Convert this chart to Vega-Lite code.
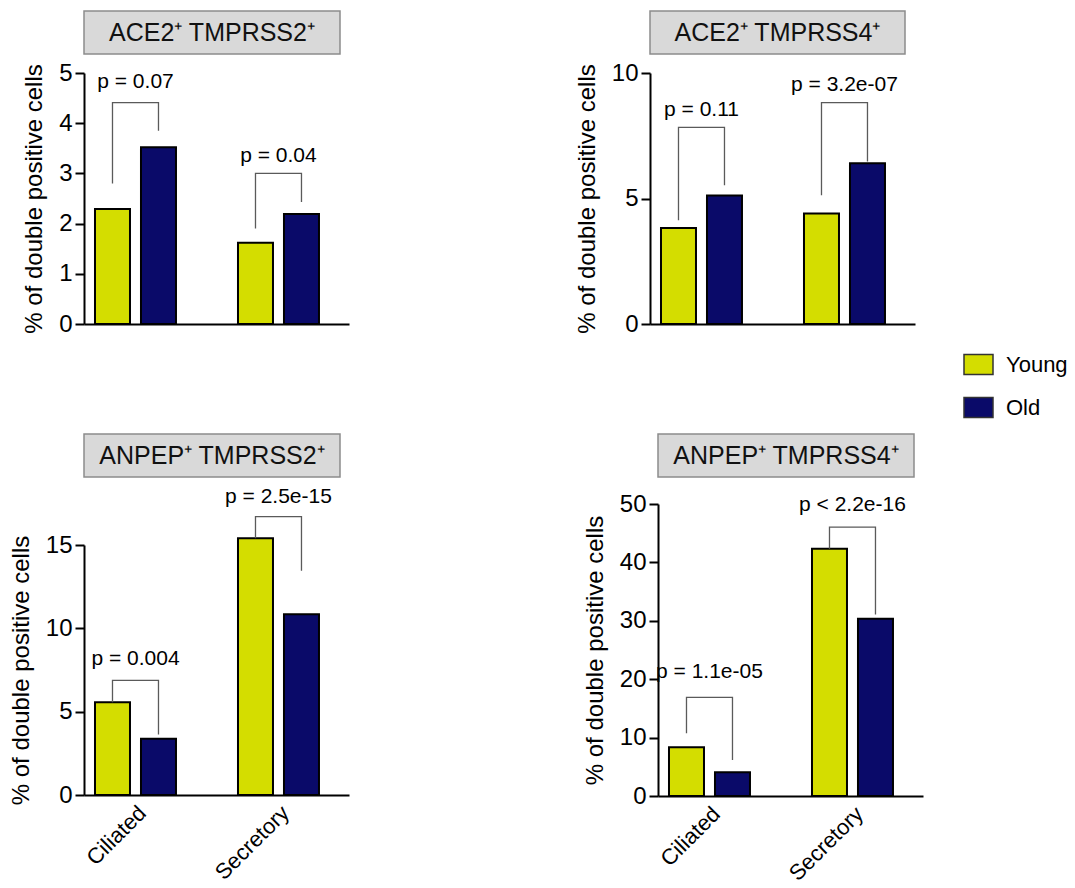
{
  "$schema": "https://vega.github.io/schema/vega-lite/v6.json",
  "padding": {"left": 9, "top": 10, "right": 0, "bottom": 0},
  "config": {
    "font": "Liberation Sans",
    "view": {"stroke": null},
    "axis": {"grid": false, "labelColor": "black", "titleColor": "black", "domainColor": "black", "tickColor": "black", "domainWidth": 2, "tickWidth": 2, "tickSize": 9, "labelFontSize": 24, "titleFontSize": 24, "titleFontWeight": "normal", "labelPadding": 3, "titlePadding": 12},
    "legend": {"labelFontSize": 22, "labelColor": "black"}
  },
  "datasets": {
    "bars": [
      {"panel": "p1", "cell": "Ciliated", "group": "Young", "pct": 2.29},
      {"panel": "p1", "cell": "Ciliated", "group": "Old", "pct": 3.52},
      {"panel": "p1", "cell": "Secretory", "group": "Young", "pct": 1.62},
      {"panel": "p1", "cell": "Secretory", "group": "Old", "pct": 2.19},
      {"panel": "p2", "cell": "Ciliated", "group": "Young", "pct": 3.82},
      {"panel": "p2", "cell": "Ciliated", "group": "Old", "pct": 5.12},
      {"panel": "p2", "cell": "Secretory", "group": "Young", "pct": 4.4},
      {"panel": "p2", "cell": "Secretory", "group": "Old", "pct": 6.4},
      {"panel": "p3", "cell": "Ciliated", "group": "Young", "pct": 5.57},
      {"panel": "p3", "cell": "Ciliated", "group": "Old", "pct": 3.37},
      {"panel": "p3", "cell": "Secretory", "group": "Young", "pct": 15.4},
      {"panel": "p3", "cell": "Secretory", "group": "Old", "pct": 10.85},
      {"panel": "p4", "cell": "Ciliated", "group": "Young", "pct": 8.33},
      {"panel": "p4", "cell": "Ciliated", "group": "Old", "pct": 4.05},
      {"panel": "p4", "cell": "Secretory", "group": "Young", "pct": 42.35},
      {"panel": "p4", "cell": "Secretory", "group": "Old", "pct": 30.35}
    ],
    "brackets": [
      {"panel": "p1", "cell": "Ciliated", "group": "Young", "seq": 1, "v": 2.8},
      {"panel": "p1", "cell": "Ciliated", "group": "Young", "seq": 2, "v": 4.41},
      {"panel": "p1", "cell": "Ciliated", "group": "Old", "seq": 3, "v": 4.41},
      {"panel": "p1", "cell": "Ciliated", "group": "Old", "seq": 4, "v": 3.85},
      {"panel": "p1", "cell": "Secretory", "group": "Young", "seq": 1, "v": 1.9},
      {"panel": "p1", "cell": "Secretory", "group": "Young", "seq": 2, "v": 3.0},
      {"panel": "p1", "cell": "Secretory", "group": "Old", "seq": 3, "v": 3.0},
      {"panel": "p1", "cell": "Secretory", "group": "Old", "seq": 4, "v": 2.43},
      {"panel": "p2", "cell": "Ciliated", "group": "Young", "seq": 1, "v": 4.13},
      {"panel": "p2", "cell": "Ciliated", "group": "Young", "seq": 2, "v": 7.83},
      {"panel": "p2", "cell": "Ciliated", "group": "Old", "seq": 3, "v": 7.83},
      {"panel": "p2", "cell": "Ciliated", "group": "Old", "seq": 4, "v": 5.53},
      {"panel": "p2", "cell": "Secretory", "group": "Young", "seq": 1, "v": 5.13},
      {"panel": "p2", "cell": "Secretory", "group": "Young", "seq": 2, "v": 8.82},
      {"panel": "p2", "cell": "Secretory", "group": "Old", "seq": 3, "v": 8.82},
      {"panel": "p2", "cell": "Secretory", "group": "Old", "seq": 4, "v": 6.47},
      {"panel": "p3", "cell": "Ciliated", "group": "Young", "seq": 1, "v": 5.57},
      {"panel": "p3", "cell": "Ciliated", "group": "Young", "seq": 2, "v": 6.88},
      {"panel": "p3", "cell": "Ciliated", "group": "Old", "seq": 3, "v": 6.88},
      {"panel": "p3", "cell": "Ciliated", "group": "Old", "seq": 4, "v": 3.63},
      {"panel": "p3", "cell": "Secretory", "group": "Young", "seq": 1, "v": 15.4},
      {"panel": "p3", "cell": "Secretory", "group": "Young", "seq": 2, "v": 16.7},
      {"panel": "p3", "cell": "Secretory", "group": "Old", "seq": 3, "v": 16.7},
      {"panel": "p3", "cell": "Secretory", "group": "Old", "seq": 4, "v": 13.45},
      {"panel": "p4", "cell": "Ciliated", "group": "Young", "seq": 1, "v": 10.73},
      {"panel": "p4", "cell": "Ciliated", "group": "Young", "seq": 2, "v": 16.9},
      {"panel": "p4", "cell": "Ciliated", "group": "Old", "seq": 3, "v": 16.9},
      {"panel": "p4", "cell": "Ciliated", "group": "Old", "seq": 4, "v": 6.17},
      {"panel": "p4", "cell": "Secretory", "group": "Young", "seq": 1, "v": 42.35},
      {"panel": "p4", "cell": "Secretory", "group": "Young", "seq": 2, "v": 46.05},
      {"panel": "p4", "cell": "Secretory", "group": "Old", "seq": 3, "v": 46.05},
      {"panel": "p4", "cell": "Secretory", "group": "Old", "seq": 4, "v": 31.1}
    ],
    "pvals": [
      {"panel": "p1", "cell": "Ciliated", "v": 4.82, "label": "p = 0.07"},
      {"panel": "p1", "cell": "Secretory", "v": 3.35, "label": "p = 0.04"},
      {"panel": "p2", "cell": "Ciliated", "v": 8.51, "label": "p = 0.11"},
      {"panel": "p2", "cell": "Secretory", "v": 9.51, "label": "p = 3.2e-07"},
      {"panel": "p3", "cell": "Ciliated", "v": 8.16, "label": "p = 0.004"},
      {"panel": "p3", "cell": "Secretory", "v": 17.89, "label": "p = 2.5e-15"},
      {"panel": "p4", "cell": "Ciliated", "v": 21.31, "label": "p = 1.1e-05"},
      {"panel": "p4", "cell": "Secretory", "v": 49.9, "label": "p < 2.2e-16"}
    ]
  },
  "spacing": 97,
  "vconcat": [
    {
      "spacing": 226,
      "hconcat": [
        {
          "bounds": "flush",
          "spacing": 19,
          "vconcat": [
            {"width": 256, "height": 43, "view": {"fill": "#D9D9D9", "stroke": "#8C8C8C", "strokeWidth": 1.5},
             "data": {"values": [{"t": "ACE2⁺ TMPRSS2⁺"}]},
             "mark": {"type": "text", "fontSize": 25, "color": "#111111"},
             "encoding": {"text": {"field": "t"}}},
            {"width": 265, "height": 251,
             "layer": [
              {"data": {"name": "bars"}, "transform": [{"filter": {"field": "panel", "equal": "p1"}}],
               "mark": {"type": "bar", "stroke": "black", "strokeWidth": 2},
               "encoding": {
                 "x": {"field": "cell", "type": "nominal", "sort": ["Ciliated", "Secretory"], "scale": {"paddingInner": 0.4336, "paddingOuter": 0.1434, "align": 0.268}, "axis": {"title": null, "labels": false, "ticks": false}},
                 "xOffset": {"field": "group", "type": "nominal", "scale": {"domain": ["Young", "Old"], "paddingInner": 0.239, "paddingOuter": 0}},
                 "y": {"field": "pct", "type": "quantitative", "scale": {"domain": [0, 5], "nice": false}, "axis": {"title": "% of double positive cells", "values": [0, 1, 2, 3, 4, 5]}},
                 "color": {"field": "group", "type": "nominal", "scale": {"domain": ["Young", "Old"], "range": ["#D4DD00", "#0A0A69"]},
                   "legend": {"title": null, "orient": "none", "legendX": 879, "legendY": 338, "symbolType": "M-1,-0.69H1V0.69H-1Z", "symbolSize": 841, "symbolStrokeColor": "#333333", "symbolStrokeWidth": 1.5, "rowPadding": 14, "labelOffset": 12, "padding": 0}}
               }},
              {"data": {"name": "brackets"}, "transform": [{"filter": {"field": "panel", "equal": "p1"}}],
               "mark": {"type": "line", "color": "#5A5A5A", "strokeWidth": 1.3},
               "encoding": {
                 "x": {"field": "cell", "type": "nominal"},
                 "xOffset": {"field": "group", "type": "nominal", "scale": {"domain": ["Young", "Old"]}},
                 "y": {"field": "v", "type": "quantitative"},
                 "detail": {"field": "cell"},
                 "order": {"field": "seq"}
               }},
              {"data": {"name": "pvals"}, "transform": [{"filter": {"field": "panel", "equal": "p1"}}],
               "mark": {"type": "text", "fontSize": 21, "color": "black"},
               "encoding": {
                 "x": {"field": "cell", "type": "nominal"},
                 "y": {"field": "v", "type": "quantitative"},
                 "text": {"field": "label"}
               }}
             ]}
          ]
        },
        {
          "bounds": "flush",
          "spacing": 19,
          "vconcat": [
            {"width": 255, "height": 43, "view": {"fill": "#D9D9D9", "stroke": "#8C8C8C", "strokeWidth": 1.5},
             "data": {"values": [{"t": "ACE2⁺ TMPRSS4⁺"}]},
             "mark": {"type": "text", "fontSize": 25, "color": "#111111"},
             "encoding": {"text": {"field": "t"}}},
            {"width": 265, "height": 251,
             "layer": [
              {"data": {"name": "bars"}, "transform": [{"filter": {"field": "panel", "equal": "p2"}}],
               "mark": {"type": "bar", "stroke": "black", "strokeWidth": 2},
               "encoding": {
                 "x": {"field": "cell", "type": "nominal", "sort": ["Ciliated", "Secretory"], "scale": {"paddingInner": 0.4336, "paddingOuter": 0.1434, "align": 0.268}, "axis": {"title": null, "labels": false, "ticks": false}},
                 "xOffset": {"field": "group", "type": "nominal", "scale": {"domain": ["Young", "Old"], "paddingInner": 0.239, "paddingOuter": 0}},
                 "y": {"field": "pct", "type": "quantitative", "scale": {"domain": [0, 10], "nice": false}, "axis": {"title": "% of double positive cells", "values": [0, 5, 10]}},
                 "color": {"field": "group", "type": "nominal", "scale": {"domain": ["Young", "Old"], "range": ["#D4DD00", "#0A0A69"]},
                   "legend": {"title": null, "orient": "none", "legendX": 879, "legendY": 338, "symbolType": "M-1,-0.69H1V0.69H-1Z", "symbolSize": 841, "symbolStrokeColor": "#333333", "symbolStrokeWidth": 1.5, "rowPadding": 14, "labelOffset": 12, "padding": 0}}
               }},
              {"data": {"name": "brackets"}, "transform": [{"filter": {"field": "panel", "equal": "p2"}}],
               "mark": {"type": "line", "color": "#5A5A5A", "strokeWidth": 1.3},
               "encoding": {
                 "x": {"field": "cell", "type": "nominal"},
                 "xOffset": {"field": "group", "type": "nominal", "scale": {"domain": ["Young", "Old"]}},
                 "y": {"field": "v", "type": "quantitative"},
                 "detail": {"field": "cell"},
                 "order": {"field": "seq"}
               }},
              {"data": {"name": "pvals"}, "transform": [{"filter": {"field": "panel", "equal": "p2"}}],
               "mark": {"type": "text", "fontSize": 21, "color": "black"},
               "encoding": {
                 "x": {"field": "cell", "type": "nominal"},
                 "y": {"field": "v", "type": "quantitative"},
                 "text": {"field": "label"}
               }}
             ]}
          ]
        }
      ]
    },
    {
      "spacing": 234,
      "hconcat": [
        {
          "bounds": "flush",
          "spacing": 68,
          "vconcat": [
            {"width": 256, "height": 43, "view": {"fill": "#D9D9D9", "stroke": "#8C8C8C", "strokeWidth": 1.5},
             "data": {"values": [{"t": "ANPEP⁺ TMPRSS2⁺"}]},
             "mark": {"type": "text", "fontSize": 25, "color": "#111111"},
             "encoding": {"text": {"field": "t"}}},
            {"width": 265, "height": 250,
             "layer": [
              {"data": {"name": "bars"}, "transform": [{"filter": {"field": "panel", "equal": "p3"}}],
               "mark": {"type": "bar", "stroke": "black", "strokeWidth": 2},
               "encoding": {
                 "x": {"field": "cell", "type": "nominal", "sort": ["Ciliated", "Secretory"], "scale": {"paddingInner": 0.4336, "paddingOuter": 0.1434, "align": 0.268}, "axis": {"title": null, "ticks": false, "labelAngle": -45, "labelFontSize": 22, "labelPadding": 7}},
                 "xOffset": {"field": "group", "type": "nominal", "scale": {"domain": ["Young", "Old"], "paddingInner": 0.239, "paddingOuter": 0}},
                 "y": {"field": "pct", "type": "quantitative", "scale": {"domain": [0, 15], "nice": false}, "axis": {"title": "% of double positive cells", "values": [0, 5, 10, 15]}},
                 "color": {"field": "group", "type": "nominal", "scale": {"domain": ["Young", "Old"], "range": ["#D4DD00", "#0A0A69"]},
                   "legend": {"title": null, "orient": "none", "legendX": 879, "legendY": 338, "symbolType": "M-1,-0.69H1V0.69H-1Z", "symbolSize": 841, "symbolStrokeColor": "#333333", "symbolStrokeWidth": 1.5, "rowPadding": 14, "labelOffset": 12, "padding": 0}}
               }},
              {"data": {"name": "brackets"}, "transform": [{"filter": {"field": "panel", "equal": "p3"}}],
               "mark": {"type": "line", "color": "#5A5A5A", "strokeWidth": 1.3},
               "encoding": {
                 "x": {"field": "cell", "type": "nominal"},
                 "xOffset": {"field": "group", "type": "nominal", "scale": {"domain": ["Young", "Old"]}},
                 "y": {"field": "v", "type": "quantitative"},
                 "detail": {"field": "cell"},
                 "order": {"field": "seq"}
               }},
              {"data": {"name": "pvals"}, "transform": [{"filter": {"field": "panel", "equal": "p3"}}],
               "mark": {"type": "text", "fontSize": 21, "color": "black"},
               "encoding": {
                 "x": {"field": "cell", "type": "nominal"},
                 "y": {"field": "v", "type": "quantitative"},
                 "text": {"field": "label"}
               }}
             ]}
          ]
        },
        {
          "bounds": "flush",
          "spacing": 27,
          "vconcat": [
            {"width": 256, "height": 43, "view": {"fill": "#D9D9D9", "stroke": "#8C8C8C", "strokeWidth": 1.5},
             "data": {"values": [{"t": "ANPEP⁺ TMPRSS4⁺"}]},
             "mark": {"type": "text", "fontSize": 25, "color": "#111111"},
             "encoding": {"text": {"field": "t"}}},
            {"width": 265, "height": 292,
             "layer": [
              {"data": {"name": "bars"}, "transform": [{"filter": {"field": "panel", "equal": "p4"}}],
               "mark": {"type": "bar", "stroke": "black", "strokeWidth": 2},
               "encoding": {
                 "x": {"field": "cell", "type": "nominal", "sort": ["Ciliated", "Secretory"], "scale": {"paddingInner": 0.4336, "paddingOuter": 0.1434, "align": 0.268}, "axis": {"title": null, "ticks": false, "labelAngle": -45, "labelFontSize": 22, "labelPadding": 7}},
                 "xOffset": {"field": "group", "type": "nominal", "scale": {"domain": ["Young", "Old"], "paddingInner": 0.239, "paddingOuter": 0}},
                 "y": {"field": "pct", "type": "quantitative", "scale": {"domain": [0, 50], "nice": false}, "axis": {"title": "% of double positive cells", "values": [0, 10, 20, 30, 40, 50]}},
                 "color": {"field": "group", "type": "nominal", "scale": {"domain": ["Young", "Old"], "range": ["#D4DD00", "#0A0A69"]},
                   "legend": {"title": null, "orient": "none", "legendX": 879, "legendY": 338, "symbolType": "M-1,-0.69H1V0.69H-1Z", "symbolSize": 841, "symbolStrokeColor": "#333333", "symbolStrokeWidth": 1.5, "rowPadding": 14, "labelOffset": 12, "padding": 0}}
               }},
              {"data": {"name": "brackets"}, "transform": [{"filter": {"field": "panel", "equal": "p4"}}],
               "mark": {"type": "line", "color": "#5A5A5A", "strokeWidth": 1.3},
               "encoding": {
                 "x": {"field": "cell", "type": "nominal"},
                 "xOffset": {"field": "group", "type": "nominal", "scale": {"domain": ["Young", "Old"]}},
                 "y": {"field": "v", "type": "quantitative"},
                 "detail": {"field": "cell"},
                 "order": {"field": "seq"}
               }},
              {"data": {"name": "pvals"}, "transform": [{"filter": {"field": "panel", "equal": "p4"}}],
               "mark": {"type": "text", "fontSize": 21, "color": "black"},
               "encoding": {
                 "x": {"field": "cell", "type": "nominal"},
                 "y": {"field": "v", "type": "quantitative"},
                 "text": {"field": "label"}
               }}
             ]}
          ]
        }
      ]
    }
  ]
}
